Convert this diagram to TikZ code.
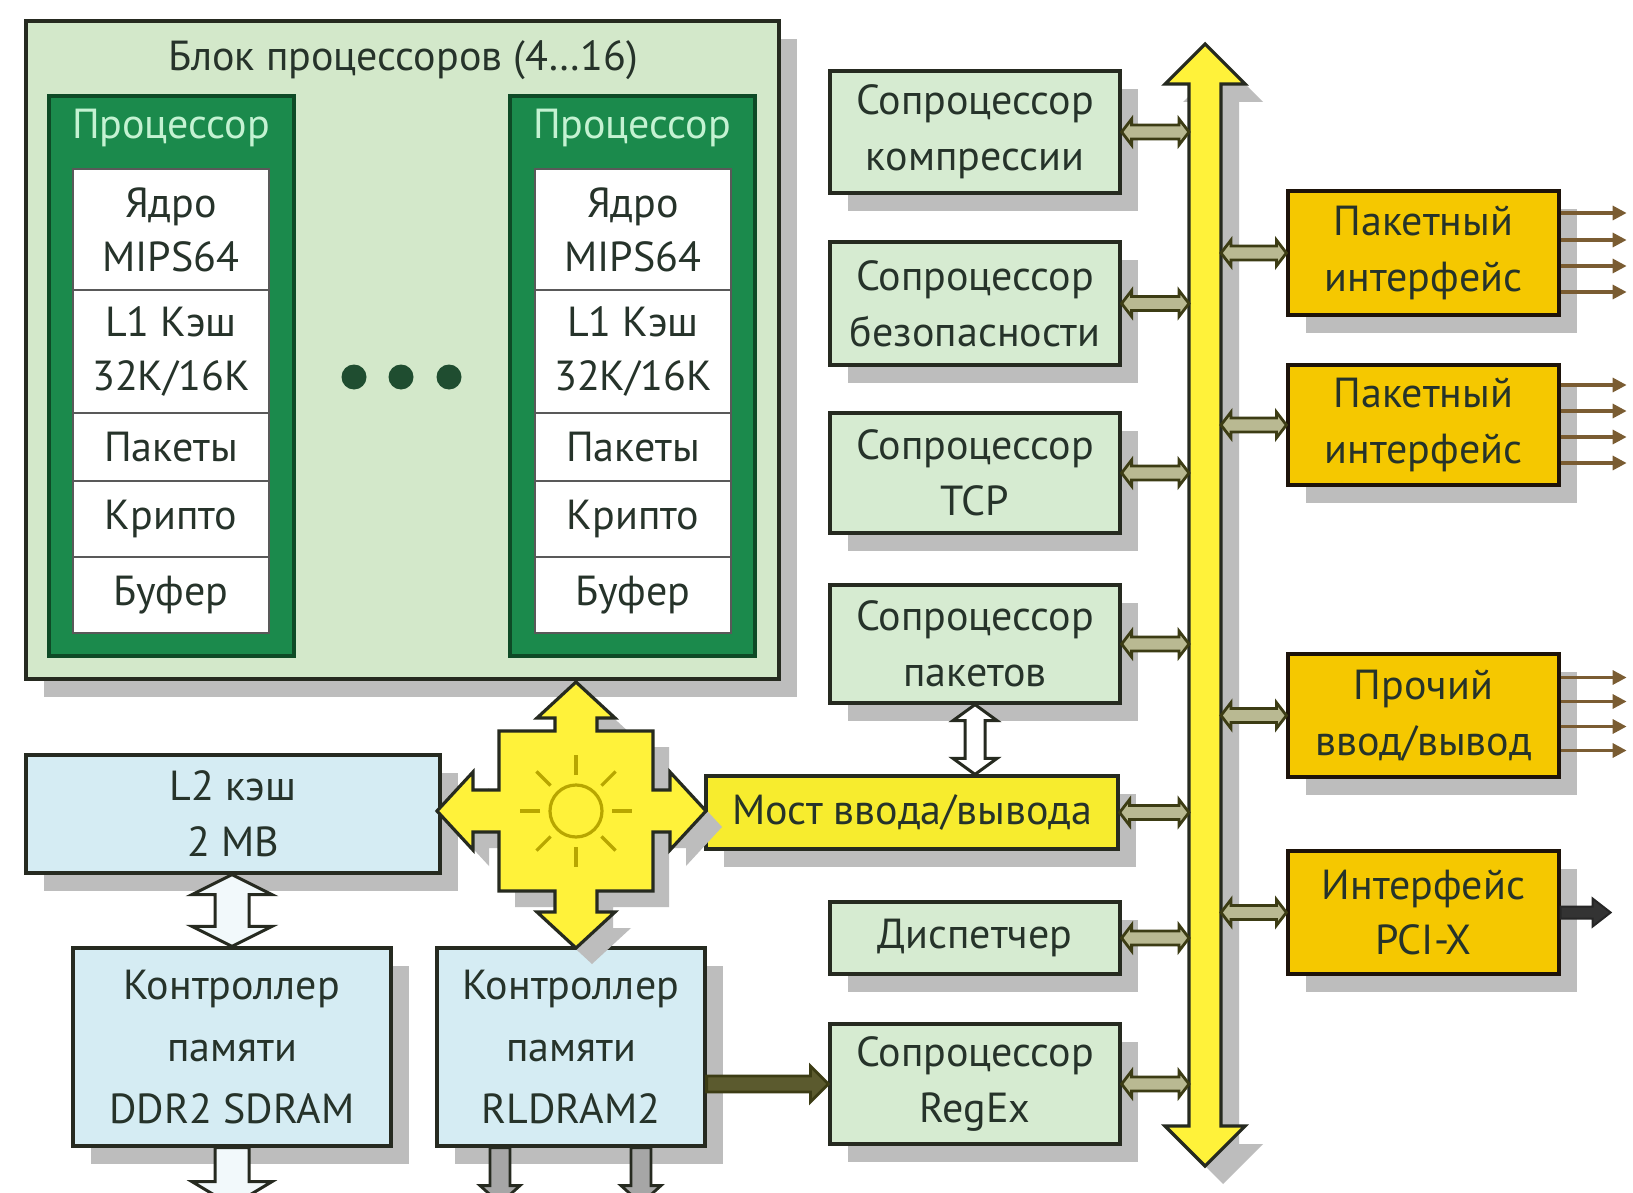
\documentclass[tikz,border=0pt]{standalone}
\usepackage{fontspec}
\setmainfont{PT Sans}
\usetikzlibrary{arrows.meta,shadows,calc}
\definecolor{procbg}{HTML}{D3E8CA}
\definecolor{copbg}{HTML}{D6EBD1}
\definecolor{procgreen}{HTML}{1B8A4C}
\definecolor{procdark}{HTML}{0E4A26}
\definecolor{mint}{HTML}{C4F2D2}
\definecolor{bluebg}{HTML}{D5ECF3}
\definecolor{ybright}{HTML}{FFF23A}
\definecolor{ymost}{HTML}{F7EC2E}
\definecolor{gold}{HTML}{F5C800}
\definecolor{edge}{HTML}{262A20}
\definecolor{txt}{HTML}{26332A}
\definecolor{olive}{HTML}{3C3C14}
\definecolor{olivefill}{HTML}{B9B992}
\definecolor{olivedark}{HTML}{5B5A2E}
\definecolor{brownln}{HTML}{7A5C32}
\definecolor{shadowc}{HTML}{BDBDBD}
\definecolor{sunc}{HTML}{B8A600}
\definecolor{dotc}{HTML}{1F4D30}

\newcommand\bx[7]{\node[#6, minimum width={(#4-#2)*0.5pt}, minimum height={(#5-#3)*0.5pt}] (#1) at ({(#2+#4)/2},{(#3+#5)/2}) {#7};}
% horizontal double-headed fat arrow
\newcommand\hdbl[6]{\path[#1] let \p1=(#2), \p2=(#3) in (\x1,\y1) -- (\x1+#6,\y1+#5) -- (\x1+#6,\y1+#4) -- (\x2-#6,\y1+#4) -- (\x2-#6,\y1+#5) -- (\x2,\y1) -- (\x2-#6,\y1-#5) -- (\x2-#6,\y1-#4) -- (\x1+#6,\y1-#4) -- (\x1+#6,\y1-#5) -- cycle;}
% horizontal single-headed (right)
\newcommand\hsgl[6]{\path[#1] let \p1=(#2), \p2=(#3) in (\x1,\y1+#4) -- (\x2-#6,\y1+#4) -- (\x2-#6,\y1+#5) -- (\x2,\y1) -- (\x2-#6,\y1-#5) -- (\x2-#6,\y1-#4) -- (\x1,\y1-#4) -- cycle;}
% vertical double-headed fat arrow (top to bottom)
\newcommand\vdbl[6]{\path[#1] let \p1=(#2), \p2=(#3) in (\x1,\y1) -- (\x1+#5,\y1-#6) -- (\x1+#4,\y1-#6) -- (\x1+#4,\y2+#6) -- (\x1+#5,\y2+#6) -- (\x1,\y2) -- (\x1-#5,\y2+#6) -- (\x1-#4,\y2+#6) -- (\x1-#4,\y1-#6) -- (\x1-#5,\y1-#6) -- cycle;}
% vertical single-headed (down)
\newcommand\vsgl[6]{\path[#1] let \p1=(#2), \p2=(#3) in (\x1-#4,\y1) -- (\x1+#4,\y1) -- (\x1+#4,\y2+#6) -- (\x1+#5,\y2+#6) -- (\x1,\y2) -- (\x1-#5,\y2+#6) -- (\x1-#4,\y2+#6) -- cycle;}

\tikzset{
  shd/.style={drop shadow={shadow xshift=9pt, shadow yshift=-9pt, fill=shadowc, opacity=1}},
  txtf/.style={font=\fontsize{21}{28}\selectfont, text=txt, align=center, inner sep=0pt},
  base/.style={txtf, draw=edge, line width=1.6pt},
  procblk/.style={base, fill=procbg, shd},
  cpu/.style={draw=procdark, line width=1.6pt, fill=procgreen, inner sep=0pt},
  cell/.style={txtf, fill=white, draw=black!65, line width=1.3pt},
  cop/.style={base, fill=copbg, shd},
  blue/.style={base, fill=bluebg, shd},
  most/.style={base, fill=ymost, shd},
  goldbox/.style={base, fill=gold, draw=black!85!brown, shd},
  busc/.style={fill=olivefill, draw=olive, line width=1.4pt},
  hollow/.style={fill=white, draw=edge, line width=1.5pt},
  outln/.style={draw=brownln, line width=1.6pt, -{Triangle[length=7pt,width=7pt]}},
}

\begin{document}
\begin{tikzpicture}[x=0.5pt,y=-0.5pt]
\path[use as bounding box, fill=white] (0,0) rectangle (1633,1193);
\clip (0,0) rectangle (1633,1193);

% ---------- processor block ----------
\bx{blk}{26}{21}{779}{679}{procblk}{}
\node[txtf] (title) at (403,60) {Блок процессоров (4…16)};

\bx{cpuA}{49}{96}{294}{656}{cpu}{}
\node[txtf, text=mint] (hA) at (171,128) {Процессор};
\bx{a1}{73}{169}{269}{290}{cell, font=\fontsize{21}{27}\selectfont}{Ядро\\MIPS64}
\bx{a2}{73}{290}{269}{413}{cell, font=\fontsize{21}{27}\selectfont}{L1 Кэш\\32K/16K}
\bx{a3}{73}{413}{269}{481}{cell}{Пакеты}
\bx{a4}{73}{481}{269}{557}{cell}{Крипто}
\bx{a5}{73}{557}{269}{633}{cell}{Буфер}

\bx{cpuB}{510}{96}{755}{656}{cpu}{}
\node[txtf, text=mint] (hB) at (632,128) {Процессор};
\bx{b1}{535}{169}{731}{290}{cell, font=\fontsize{21}{27}\selectfont}{Ядро\\MIPS64}
\bx{b2}{535}{290}{731}{413}{cell, font=\fontsize{21}{27}\selectfont}{L1 Кэш\\32K/16K}
\bx{b3}{535}{413}{731}{481}{cell}{Пакеты}
\bx{b4}{535}{481}{731}{557}{cell}{Крипто}
\bx{b5}{535}{557}{731}{633}{cell}{Буфер}

\foreach \dn/\dx in {d1/354,d2/401,d3/449}{
  \node[circle, fill=dotc, minimum size=12.5pt, inner sep=0pt] (\dn) at (\dx,377) {};
}

% ---------- coprocessors ----------
\bx{cmp}{830}{71}{1120}{193}{cop}{Сопроцессор\\компрессии}
\bx{sec}{830}{242}{1120}{365}{cop}{Сопроцессор\\безопасности}
\bx{tcp}{830}{413}{1120}{533}{cop}{Сопроцессор\\TCP}
\bx{pkt}{830}{585}{1120}{703}{cop}{Сопроцессор\\пакетов}
\bx{dsp}{830}{902}{1120}{974}{cop}{Диспетчер}
\bx{rgx}{830}{1024}{1120}{1144}{cop}{Сопроцессор\\RegEx}
\bx{most}{706}{776}{1118}{849}{most}{Мост ввода/вывода}

% ---------- memory ----------
\bx{l2}{26}{755}{440}{873}{blue}{L2 кэш\\2 MB}
\bx{ddr}{73}{948}{391}{1146}{blue, font=\fontsize{21}{31}\selectfont}{Контроллер\\памяти\\DDR2 SDRAM}
\bx{rld}{437}{948}{705}{1146}{blue, font=\fontsize{21}{31}\selectfont}{Контроллер\\памяти\\RLDRAM2}

% ---------- right interfaces ----------
\bx{pi1}{1288}{191}{1559}{315}{goldbox}{Пакетный\\интерфейс}
\bx{pi2}{1288}{365}{1559}{485}{goldbox}{Пакетный\\интерфейс}
\bx{oio}{1288}{654}{1559}{777}{goldbox}{Прочий\\ввод/вывод}
\bx{pci}{1288}{851}{1559}{974}{goldbox}{Интерфейс\\PCI-X}

% ---------- bus ----------
\coordinate (busTop) at (1205,44);
\coordinate (busBot) at (1205,1166);
\coordinate (busL) at (1189,600);
\coordinate (busR) at (1221,600);
\vdbl{fill=ybright, draw=edge, line width=1.6pt, drop shadow={shadow xshift=9pt, shadow yshift=-9pt, fill=shadowc, opacity=1}}{busTop}{busBot}{8pt}{20pt}{20pt}

% ---------- crossbar ----------
\node[minimum size=10pt, inner sep=0pt] (xbar) at (576,811) {};
\begin{scope}[shift={(xbar)}]
\draw[fill=ybright, draw=edge, line width=1.6pt, line join=miter, drop shadow={shadow xshift=8pt, shadow yshift=-8pt, fill=shadowc, opacity=1}]
 (0,-129) -- (39,-93) -- (21,-93) -- (21,-80) -- (77,-80) -- (77,-21) -- (94,-21) -- (94,-39) -- (130,0)
 -- (94,39) -- (94,21) -- (77,21) -- (77,80) -- (21,80) -- (21,101) -- (39,101) -- (0,137)
 -- (-39,101) -- (-21,101) -- (-21,80) -- (-77,80) -- (-77,21) -- (-103,21) -- (-103,39) -- (-139,0)
 -- (-103,-39) -- (-103,-21) -- (-77,-21) -- (-77,-80) -- (-21,-80) -- (-21,-93) -- (-39,-93) -- cycle;
\draw[sunc, line width=1.6pt] (0,0) circle [radius=13pt];
\foreach \a in {0,45,...,315}{
  \draw[sunc, line width=1.6pt] (\a:18pt) -- (\a:28pt);
}
\end{scope}

% ---------- bus connectors ----------
\foreach \cn in {cmp,sec,tcp,pkt,most,dsp,rgx}{
  \hdbl{busc}{\cn.east}{\cn.east -| busL}{3.5pt}{6.5pt}{5pt}
}
\foreach \cn in {pi1,pi2,oio,pci}{
  \hdbl{busc}{\cn.west -| busR}{\cn.west}{3.5pt}{6.5pt}{5pt}
}

% ---------- other connectors ----------
\vdbl{hollow}{pkt.south}{pkt.south |- most.north}{5pt}{11pt}{8pt}
\vdbl{hollow, fill=white!70!bluebg}{ddr.north |- l2.south}{ddr.north}{8.5pt}{20pt}{10pt}
\vsgl{hollow, fill=white!70!bluebg}{ddr.south}{$(ddr.south)+(0,58)$}{8.5pt}{20pt}{12pt}
\vsgl{fill=black!35, draw=edge, line width=1.4pt}{[xshift=-35.5pt]rld.south}{$([xshift=-35.5pt]rld.south)+(0,56)$}{5pt}{10pt}{9pt}
\vsgl{fill=black!35, draw=edge, line width=1.4pt}{[xshift=35pt]rld.south}{$([xshift=35pt]rld.south)+(0,56)$}{5pt}{10pt}{9pt}
\hsgl{fill=olivedark, draw=olive, line width=1.4pt}{rld.east |- rgx.west}{rgx.west}{4pt}{9pt}{9pt}
\hsgl{fill=black!80, draw=black!85, line width=1pt}{pci.east}{$(pci.east)+(50,0)$}{3pt}{7pt}{9pt}

% ---------- output lines ----------
\foreach \bn/\a/\b/\c/\d in {pi1/20pt/6.5pt/-6.5pt/-19.5pt, pi2/20pt/7pt/-6pt/-19pt, oio/19pt/7pt/-5.5pt/-17.5pt}{
  \draw[outln] ([yshift=\a]\bn.east) -- ++(66,0);
  \draw[outln] ([yshift=\b]\bn.east) -- ++(66,0);
  \draw[outln] ([yshift=\c]\bn.east) -- ++(66,0);
  \draw[outln] ([yshift=\d]\bn.east) -- ++(66,0);
}
\end{tikzpicture}
\end{document}
